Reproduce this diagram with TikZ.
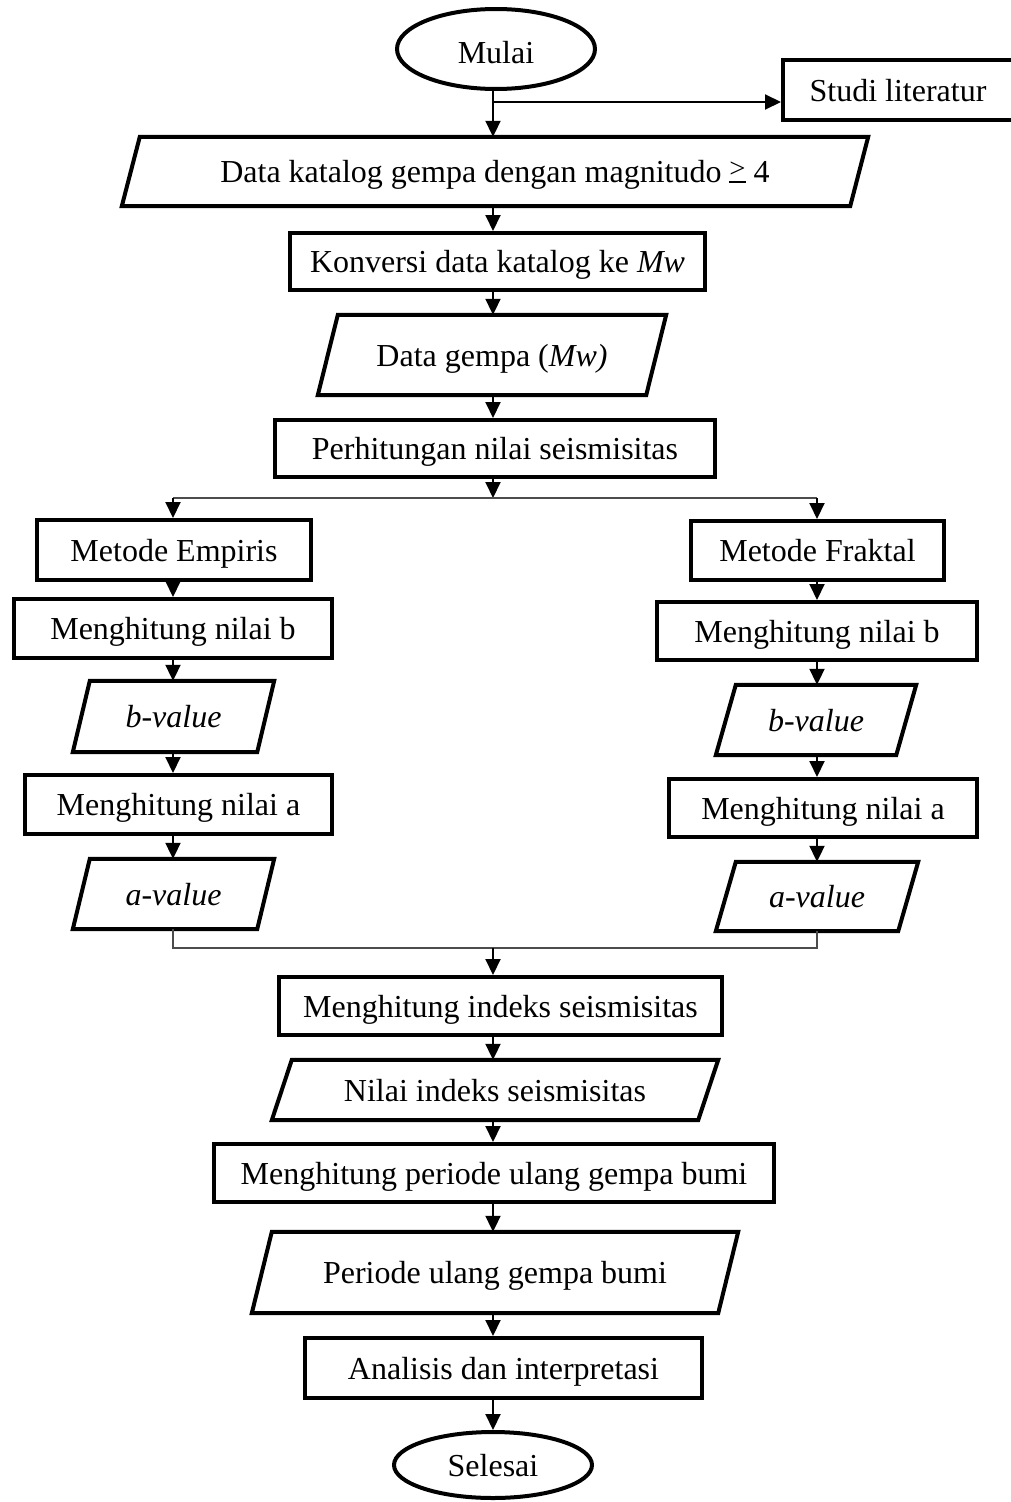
\documentclass[tikz,border=0pt]{standalone}
\usepackage{fontspec}
\setmainfont{Liberation Serif}
\usetikzlibrary{arrows.meta,shapes.geometric}
\newcommand\pgram[2]{\draw[boxline] ([xshift=#2pt]#1.north west) -- (#1.north east) -- ([xshift=-#2pt]#1.south east) -- (#1.south west) -- cycle;}
\newcommand\geqbar{\mbox{\setbox0\hbox{\scalebox{0.9}[0.85]{>}}\rlap{\raisebox{0.16em}{\copy0}}\rule{\wd0}{0.055em}}}
\begin{document}
\begin{tikzpicture}[x=1pt,y=-1pt, font=\fontsize{32}{38}\selectfont,
  boxline/.style={line width=4pt, line join=miter},
  txt/.style={inner sep=0pt, text height=27pt, text depth=5pt},
  proc/.style={draw, boxline, rectangle, txt},
  term/.style={draw, boxline, ellipse, txt},
  io/.style={rectangle, txt},
  arr/.style={line width=2pt, -{Triangle[length=16pt,width=15pt]}},
  thinline/.style={line width=1.3pt, draw=black!70}]
\useasboundingbox (0,0) rectangle (1011,1502);
\fill[white] (0,0) rectangle (1011,1502);

\node[term, minimum width=198pt, minimum height=80pt, text height=33pt] (mulai) at (496,49) {Mulai};
\node[proc, minimum width=230pt, minimum height=60pt] (studi) at (898,90) {Studi literatur};
\node[io, minimum width=746pt, minimum height=69pt] (katalog) at (495,171.5) {Data katalog gempa dengan magnitudo \geqbar\ 4};
\pgram{katalog}{18}
\node[proc, minimum width=415pt, minimum height=57pt] (konversi) at (497.5,261.5) {Konversi data katalog ke \textit{Mw}};
\node[io, minimum width=348pt, minimum height=80pt] (gempa) at (492,355) {Data gempa (\textit{Mw)}};
\pgram{gempa}{20}
\node[proc, minimum width=440pt, minimum height=57pt] (hitung) at (495,448.5) {Perhitungan nilai seismisitas};

\node[proc, minimum width=274pt, minimum height=60pt] (empiris) at (174,550) {Metode Empiris};
\node[proc, minimum width=318pt, minimum height=59pt] (bL) at (173,628.5) {Menghitung nilai b};
\node[io, minimum width=201pt, minimum height=71pt] (bvL) at (173.5,716.5) {\textit{b-value}};
\pgram{bvL}{17}
\node[proc, minimum width=307pt, minimum height=59pt] (aL) at (178.5,804.5) {Menghitung nilai a};
\node[io, minimum width=201pt, minimum height=70pt] (avL) at (173.5,894) {\textit{a-value}};
\pgram{avL}{17}

\node[proc, minimum width=253pt, minimum height=59pt] (fraktal) at (817.5,550.5) {Metode Fraktal};
\node[proc, minimum width=320pt, minimum height=58pt] (bR) at (817,631) {Menghitung nilai b};
\node[io, minimum width=200pt, minimum height=70pt] (bvR) at (816,720) {\textit{b-value}};
\pgram{bvR}{20}
\node[proc, minimum width=308pt, minimum height=58pt] (aR) at (823,808) {Menghitung nilai a};
\node[io, minimum width=202pt, minimum height=69pt] (avR) at (817,896.5) {\textit{a-value}};
\pgram{avR}{20}

\node[proc, minimum width=443pt, minimum height=58pt] (indeks) at (500.5,1006) {Menghitung indeks seismisitas};
\node[io, minimum width=446pt, minimum height=60pt] (nilai) at (495,1090) {Nilai indeks seismisitas};
\pgram{nilai}{20}
\node[proc, minimum width=560pt, minimum height=58pt] (periode) at (494,1173) {Menghitung periode ulang gempa bumi};
\node[io, minimum width=486pt, minimum height=81pt] (ulang) at (495,1272.5) {Periode ulang gempa bumi};
\pgram{ulang}{20}
\node[proc, minimum width=397pt, minimum height=60pt] (analisis) at (503.5,1368) {Analisis dan interpretasi};
\node[term, minimum width=198pt, minimum height=66pt] (selesai) at (493,1465) {Selesai};

\coordinate (cM) at (493,0);
\coordinate (cL) at (173,0);
\coordinate (cR) at (817,0);
\coordinate (j1) at (493,102);
\coordinate (split) at (493,498);
\coordinate (merge) at (493,948);

\draw[arr] (mulai.south -| cM) -- (katalog.north -| cM);
\draw[arr] (j1) -- (j1 -| studi.west);
\draw[arr] (katalog.south -| cM) -- (konversi.north -| cM);
\draw[arr] (konversi.south -| cM) -- (gempa.north -| cM);
\draw[arr] (gempa.south -| cM) -- (hitung.north -| cM);
\draw[arr] (hitung.south -| cM) -- (split);
\draw[thinline] (split -| cL) -- (split -| cR);
\draw[arr] (split -| cL) -- (empiris.north -| cL);
\draw[arr] (split -| cR) -- (fraktal.north -| cR);

\draw[arr] (empiris.south -| cL) -- (bL.north -| cL);
\draw[arr] (bL.south -| cL) -- (bvL.north -| cL);
\draw[arr] (bvL.south -| cL) -- (aL.north -| cL);
\draw[arr] (aL.south -| cL) -- (avL.north -| cL);

\draw[arr] (fraktal.south -| cR) -- (bR.north -| cR);
\draw[arr] (bR.south -| cR) -- (bvR.north -| cR);
\draw[arr] (bvR.south -| cR) -- (aR.north -| cR);
\draw[arr] (aR.south -| cR) -- (avR.north -| cR);

\draw[thinline] (avL.south -| cL) -- (merge -| cL) -- (merge -| cR) -- (avR.south -| cR);
\draw[arr] (merge) -- (indeks.north -| cM);
\draw[arr] (indeks.south -| cM) -- (nilai.north -| cM);
\draw[arr] (nilai.south -| cM) -- (periode.north -| cM);
\draw[arr] (periode.south -| cM) -- (ulang.north -| cM);
\draw[arr] (ulang.south -| cM) -- (analisis.north -| cM);
\draw[arr] (analisis.south -| cM) -- (selesai.north -| cM);
\end{tikzpicture}
\end{document}
